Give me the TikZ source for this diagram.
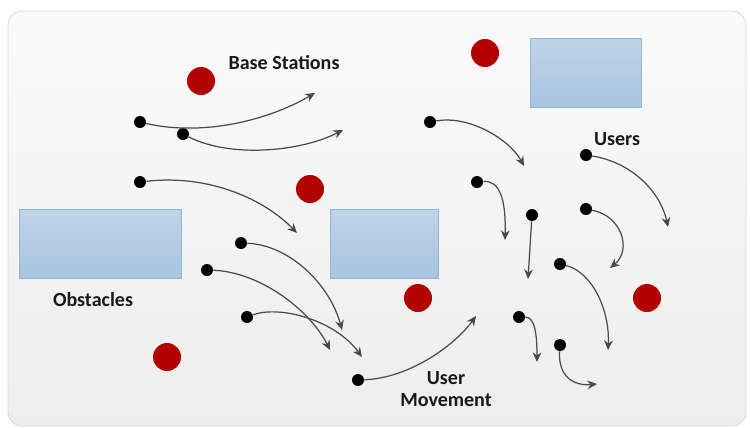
\documentclass[tikz,border=0pt]{standalone}
\usepackage{fontspec}
\setmainfont{Carlito}
\usetikzlibrary{arrows.meta}
\definecolor{bsred}{HTML}{B30000}
\definecolor{boxtop}{HTML}{BFD4E9}
\definecolor{boxbot}{HTML}{A8C4DF}
\definecolor{boxline}{HTML}{98B4CF}
\definecolor{mvline}{HTML}{4A4A4A}
\tikzset{
  bs/.style={circle,fill=bsred,inner sep=0pt,minimum size=28*0.02cm},
  usr/.style={circle,fill=black,inner sep=0pt,minimum size=12*0.02cm},
  obst/.style={draw=boxline,line width=0.4pt,top color=boxtop,bottom color=boxbot},
  mv/.style={draw=mvline,line width=0.7pt,-{Stealth[length=5.5pt,width=5pt]}},
  lbl/.style={font=\bfseries\fontsize{11.4}{12.5}\selectfont,text=black!90,align=center,inner sep=0pt}
}
\begin{document}
\begin{tikzpicture}[x=0.02cm,y=-0.02cm]
\useasboundingbox (0,0) rectangle (750,427);
\shade[top color=white!98!black,bottom color=white!93!black,draw=white!85!black,line width=0.5pt,rounded corners=8pt] (8,11) rectangle (746,426);
% obstacles
\path[obst] (19,209) rectangle (181,278);
\path[obst] (330,209) rectangle (438,278);
\path[obst] (530,38) rectangle (641,107);
% base stations
\node[bs] (bs1) at (201,81) {};
\node[bs] (bs2) at (485,53) {};
\node[bs] (bs3) at (310,189) {};
\node[bs] (bs4) at (418,298) {};
\node[bs] (bs5) at (647,298) {};
\node[bs] (bs6) at (167,357) {};
% labels
\node[lbl] (lbs) at (284,63) {Base Stations};
\node[lbl] (lus) at (617,139) {Users};
\node[lbl] (lob) at (93,300) {Obstacles};
\node[lbl] (lmv) at (446,389) {User\\[0pt]Movement};
% users
\node[usr] (A) at (140,122) {};
\node[usr] (B) at (183,134) {};
\node[usr] (C) at (140,182) {};
\node[usr] (D) at (241,243) {};
\node[usr] (E) at (207,270) {};
\node[usr] (F) at (247,317) {};
\node[usr] (G) at (358,380) {};
\node[usr] (H) at (430,122) {};
\node[usr] (I) at (477,182) {};
\node[usr] (J) at (532,215) {};
\node[usr] (K) at (586,155) {};
\node[usr] (L) at (586,209) {};
\node[usr] (M) at (560,264) {};
\node[usr] (N) at (519,317) {};
\node[usr] (O) at (560,345) {};
% targets
\coordinate (tA) at (315,93);
\coordinate (tB) at (343,130);
\coordinate (tC) at (297,233);
\coordinate (tD) at (342,330);
\coordinate (tE) at (330,350);
\coordinate (tF) at (362,357);
\coordinate (tG) at (476,316);
\coordinate (tH) at (524,166);
\coordinate (tI) at (505,240);
\coordinate (tJ) at (528,279);
\coordinate (tK) at (668,227);
\coordinate (tL) at (610,268);
\coordinate (tM) at (608,350);
\coordinate (tN) at (537,362);
\coordinate (tO) at (597,384);
% movements
\draw[mv] (A) .. controls (200,136) and (265,122) .. (tA);
\draw[mv] (B) .. controls (230,158) and (300,152) .. (tB);
\draw[mv] (C) .. controls (210,174) and (265,200) .. (tC);
\draw[mv] (D) .. controls (290,245) and (330,285) .. (tD);
\draw[mv] (E) .. controls (260,272) and (310,310) .. (tE);
\draw[mv] (F) .. controls (280,305) and (335,320) .. (tF);
\draw[mv] (G) .. controls (410,378) and (455,345) .. (tG);
\draw[mv] (H) .. controls (470,115) and (510,140) .. (tH);
\draw[mv] (I) .. controls (500,180) and (506,200) .. (tI);
\draw[mv] (J) -- (tJ);
\draw[mv] (K) .. controls (630,162) and (660,190) .. (tK);
\draw[mv] (L) .. controls (622,216) and (632,250) .. (tL);
\draw[mv] (M) .. controls (592,272) and (610,310) .. (tM);
\draw[mv] (N) .. controls (535,317) and (537,335) .. (tN);
\draw[mv] (O) .. controls (558,378) and (575,386) .. (tO);
\end{tikzpicture}
\end{document}
